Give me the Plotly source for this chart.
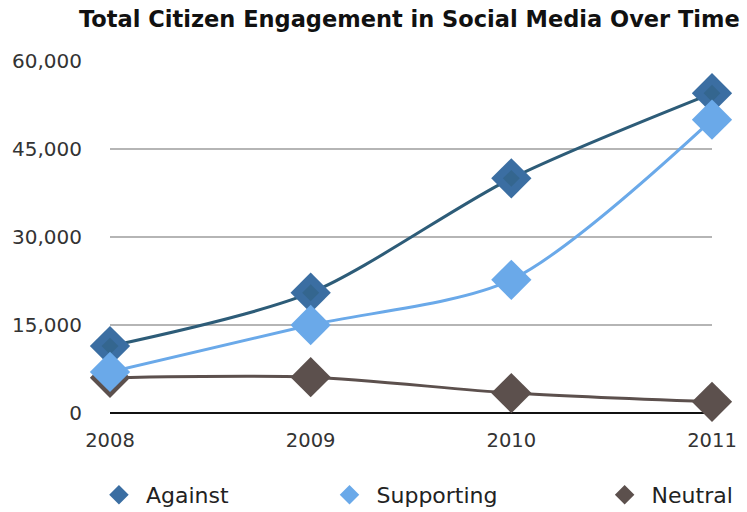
import plotly.graph_objects as go

years = [2008, 2009, 2010, 2011]
against = [11400, 20500, 40000, 54500]
supporting = [7000, 15000, 22700, 50000]
neutral = [6000, 6100, 3400, 1900]
y_ticks = [0, 15000, 30000, 45000, 60000]
y_tick_text = ["0", "15,000", "30,000", "45,000", "60,000"]

# name, values, marker colour, line colour, legend id, legend x (paper)
series = {
    "Against": (against, "#3b6ea2", "#2d5c78", "legend", -0.03),
    "Supporting": (supporting, "#6aa9e9", "#6aa9e9", "legend2", 0.353),
    "Neutral": (neutral, "#5c504d", "#5c504d", "legend3", 0.81),
}
draw_order = ["Neutral", "Against", "Supporting"]

fig = go.Figure()
for name in draw_order:
    vals, mcolor, lcolor, leg, _ = series[name]
    fig.add_trace(go.Scatter(
        x=years, y=vals, name=name, mode="lines+markers",
        line=dict(color=lcolor, width=3, shape="spline", smoothing=0.8),
        marker=dict(symbol="diamond", size=31, color=mcolor, line=dict(width=0)),
        cliponaxis=False, showlegend=False,
    ))
    if name == "Against":
        # darker core inside the Against diamonds
        fig.add_trace(go.Scatter(
            x=years, y=vals, mode="markers", hoverinfo="skip",
            marker=dict(symbol="diamond", size=13, color="#34668f"),
            cliponaxis=False, showlegend=False,
        ))
    # marker-only legend entry
    fig.add_trace(go.Scatter(
        x=[None], y=[None], name=name, mode="markers",
        marker=dict(symbol="diamond", size=15, color=mcolor),
        legend=leg, showlegend=True,
    ))

legend_common = dict(orientation="h", y=-0.233, yanchor="middle", xanchor="left",
                     font=dict(size=22, color="#222222", family="DejaVu Sans"),
                     itemwidth=44, bgcolor="rgba(0,0,0,0)", borderwidth=0)

layout_legends = {}
for name, (vals, mcolor, lcolor, leg, lx) in series.items():
    layout_legends[leg] = dict(legend_common, x=lx)

fig.update_layout(
    width=747, height=512,
    margin=dict(l=110, r=35, t=61, b=99, autoexpand=False),
    paper_bgcolor="white", plot_bgcolor="white",
    font=dict(family="DejaVu Sans, sans-serif", color="#333333"),
    title=dict(text="<b>Total Citizen Engagement in Social Media Over Time</b>",
               x=0.548, xanchor="center", y=0.962, yanchor="middle",
               font=dict(size=22.5, color="#111111", family="DejaVu Sans")),
    xaxis=dict(range=[2008, 2011], tickvals=years, ticktext=[str(y) for y in years],
               showgrid=False, zeroline=False, showline=False,
               tickfont=dict(size=19.5), ticks="", ticklabelstandoff=13),
    yaxis=dict(range=[0, 60000], tickvals=y_ticks, ticktext=y_tick_text,
               showgrid=True, gridcolor="#b5b5b5", gridwidth=1.5,
               zeroline=True, zerolinecolor="#111111", zerolinewidth=2,
               showline=False, tickfont=dict(size=20), ticks="",
               ticklabelstandoff=27),
    **layout_legends,
)

fig.write_html("out.html")
